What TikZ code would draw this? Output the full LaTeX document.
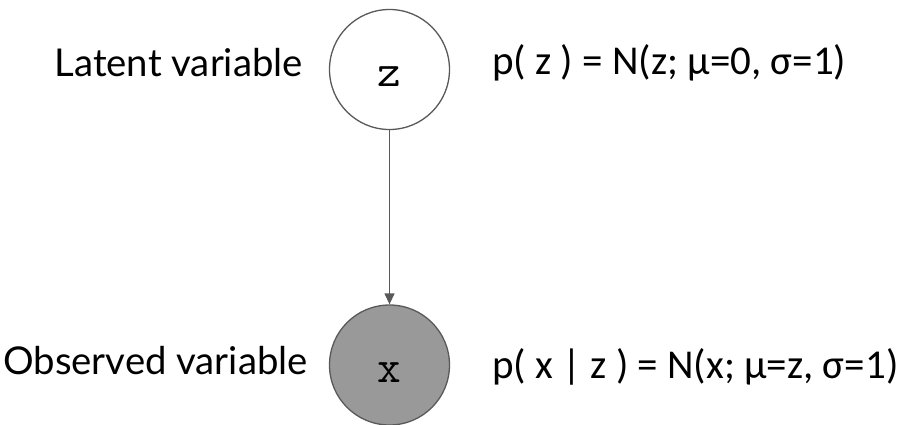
\documentclass[tikz,border=0pt]{standalone}
\usepackage{fontspec}
\usetikzlibrary{arrows.meta}
\newfontfamily\labelfont{Lato}
\newfontfamily\formfont{Carlito}
\definecolor{edgegray}{HTML}{595959}
\definecolor{obsfill}{HTML}{999999}
\begin{document}
\begin{tikzpicture}[x=1pt,y=-1pt,
  varnode/.style={circle,draw=edgegray,line width=1.3pt,minimum size=120pt,inner sep=0pt},
  vartext/.style={anchor=base,inner sep=0pt,font=\ttfamily\fontsize{46}{46}\selectfont},
  sidelabel/.style={anchor=base east,inner sep=0pt,font=\labelfont\fontsize{38.3}{38.3}\selectfont},
  formula/.style={anchor=base west,inner sep=0pt,font=\formfont\fontsize{41}{41}\selectfont},
  conn/.style={draw=edgegray,line width=1.3pt,-{Triangle[length=11pt,width=10pt]}}]
\useasboundingbox (0,0) rectangle (904,425);
\node[varnode,fill=white] (z) at (389.5,69.5) {};
\node[varnode,fill=obsfill] (x) at (389.5,365) {};
\node[vartext] (zt) at (389.5,87) {z};
\node[vartext] (xt) at (389.5,382) {x};
\draw[conn] (z) -- (x);
\node[sidelabel] (lat) at (303,77) {Latent variable};
\node[sidelabel] (obs) at (308,374) {Observed variable};
\node[formula] (pz) at (492,75) {p( z ) = N(z; μ=0, σ=1)};
\node[formula] (px) at (492,378) {p( x | z ) = N(x; μ=z, σ=1)};
\end{tikzpicture}
\end{document}
